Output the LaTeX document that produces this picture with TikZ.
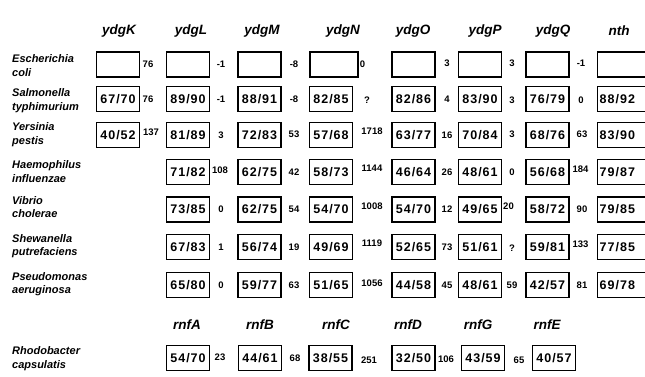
\documentclass[tikz,border=0pt]{standalone}
\usepackage{fontspec}
\setmainfont{Liberation Sans}
\newfontfamily\hvls[LetterSpace=8]{Liberation Sans}
\newcommand\spfont{\bfseries\itshape\fontsize{11}{13.5}\selectfont}
\newcommand\hdfont{\bfseries\itshape\fontsize{13.5}{15}\selectfont}
\newcommand\bxfont{\hvls\bfseries\fontsize{12.5}{14}\selectfont}
\newcommand\glfont{\bfseries\fontsize{9.5}{10}\selectfont}
\begin{document}
\begin{tikzpicture}[x=1pt,y=-1pt,
  sp/.style={anchor=west,align=left,inner sep=0pt,font=\spfont},
  hd/.style={inner sep=0pt,font=\hdfont},
  bx/.style={draw,line width=1.4pt,minimum width=43pt,minimum height=25pt,inner sep=0pt,font=\bxfont},
  nthbx/.style={bx,anchor=west,text width=48pt,align=left,inner xsep=2pt},
  gl/.style={inner sep=0pt,font=\glfont}]
\useasboundingbox (0,0) rectangle (645,376);
\clip (0,0) rectangle (645,376);
% headers
\node[hd] (hK) at (119,31) {ydgK};
\node[hd] (hL) at (191,31) {ydgL};
\node[hd] (hM) at (262,31) {ydgM};
\node[hd] (hN) at (343,31) {ydgN};
\node[hd] (hO) at (413,31) {ydgO};
\node[hd] (hP) at (485,31) {ydgP};
\node[hd] (hQ) at (553,31) {ydgQ};
\node[hd] (hnth) at (619,31) {nth};
% species
\node[sp] (s1) at (12,65.5) {Escherichia\\coli};
\node[sp] (s2) at (12,100.5) {Salmonella\\typhimurium};
\node[sp] (s3) at (12,134.5) {Yersinia\\pestis};
\node[sp] (s4) at (12,171.5) {Haemophilus\\influenzae};
\node[sp] (s5) at (12,207) {Vibrio\\cholerae};
\node[sp] (s6) at (12,246) {Shewanella\\putrefaciens};
\node[sp] (s7) at (12,284) {Pseudomonas\\aeruginosa};
\node[sp] (s8) at (12,358.5) {Rhodobacter\\capsulatis};
% row 1
\node[bx] (r1K) at (118,64.5) {};
\node[gl] (r1a) at (148,64.5) {76};
\node[bx] (r1L) at (188,64.5) {};
\node[gl] (r1b) at (221,64.5) {-1};
\node[bx] (r1M) at (259.5,64.5) {};
\node[gl] (r1c) at (294,64.5) {-8};
\node[bx,minimum width=48pt] (r1N) at (334,64.5) {};
\node[gl] (r1d) at (362.5,64.5) {0};
\node[bx] (r1O) at (413.5,64.5) {};
\node[gl] (r1e) at (447,63.5) {3};
\node[bx] (r1P) at (480,64.5) {};
\node[gl] (r1f) at (512,63.5) {3};
\node[bx] (r1Q) at (547.5,64.5) {};
\node[gl] (r1g) at (581,63.5) {-1};
\node[nthbx] (r1nth) at (597,64.5) {\phantom{0}};
% row 2
\node[bx] (r2K) at (118,99) {67/70};
\node[gl] (r2a) at (148,99) {76};
\node[bx] (r2L) at (188,99) {89/90};
\node[gl] (r2b) at (221,99) {-1};
\node[bx] (r2M) at (259.5,99) {88/91};
\node[gl] (r2c) at (294,99) {-8};
\node[bx] (r2N) at (331,99) {82/85};
\node[gl] (r2d) at (367,100) {?};
\node[bx] (r2O) at (413.5,99) {82/86};
\node[gl] (r2e) at (447,99) {4};
\node[bx] (r2P) at (480,99) {83/90};
\node[gl] (r2f) at (512,100) {3};
\node[bx] (r2Q) at (547.5,99) {76/79};
\node[gl] (r2g) at (581,100) {0};
\node[nthbx] (r2nth) at (597,99) {88/92};
% row 3
\node[bx] (r3K) at (118,135) {40/52};
\node[gl] (r3a) at (151,132.5) {137};
\node[bx] (r3L) at (188,135) {81/89};
\node[gl] (r3b) at (221,135) {3};
\node[bx] (r3M) at (259.5,135) {72/83};
\node[gl] (r3c) at (294,134) {53};
\node[bx] (r3N) at (331,135) {57/68};
\node[gl] (r3d) at (372,131.5) {1718};
\node[bx] (r3O) at (413.5,135) {63/77};
\node[gl] (r3e) at (447,135) {16};
\node[bx] (r3P) at (480,135) {70/84};
\node[gl] (r3f) at (512,134) {3};
\node[bx] (r3Q) at (547.5,135) {68/76};
\node[gl] (r3g) at (582,134) {63};
\node[nthbx] (r3nth) at (597,135) {83/90};
% row 4
\node[bx] (r4L) at (188,172) {71/82};
\node[gl] (r4b) at (220,170.5) {108};
\node[bx] (r4M) at (259.5,172) {62/75};
\node[gl] (r4c) at (294,172) {42};
\node[bx] (r4N) at (331,172) {58/73};
\node[gl] (r4d) at (372,168.5) {1144};
\node[bx] (r4O) at (413.5,172) {46/64};
\node[gl] (r4e) at (447,172) {26};
\node[bx] (r4P) at (480,172) {48/61};
\node[gl] (r4f) at (512,172) {0};
\node[bx] (r4Q) at (547.5,172) {56/68};
\node[gl] (r4g) at (580.5,169) {184};
\node[nthbx] (r4nth) at (597,172) {79/87};
% row 5
\node[bx] (r5L) at (188,209.5) {73/85};
\node[gl] (r5b) at (221,209.5) {0};
\node[bx] (r5M) at (259.5,209.5) {62/75};
\node[gl] (r5c) at (294,209.5) {54};
\node[bx] (r5N) at (331,209.5) {54/70};
\node[gl] (r5d) at (372,206) {1008};
\node[bx] (r5O) at (413.5,209.5) {54/70};
\node[gl] (r5e) at (447,209.5) {12};
\node[bx] (r5P) at (480,209.5) {49/65};
\node[gl] (r5f) at (508.5,206) {20};
\node[bx] (r5Q) at (547.5,209.5) {58/72};
\node[gl] (r5g) at (582,209.5) {90};
\node[nthbx] (r5nth) at (597,209.5) {79/85};
% row 6
\node[bx] (r6L) at (188,247) {67/83};
\node[gl] (r6b) at (221,247) {1};
\node[bx] (r6M) at (259.5,247) {56/74};
\node[gl] (r6c) at (294,247) {19};
\node[bx] (r6N) at (331,247) {49/69};
\node[gl] (r6d) at (372,243.5) {1119};
\node[bx] (r6O) at (413.5,247) {52/65};
\node[gl] (r6e) at (447,247) {73};
\node[bx] (r6P) at (480,247) {51/61};
\node[gl] (r6f) at (512,248) {?};
\node[bx] (r6Q) at (547.5,247) {59/81};
\node[gl] (r6g) at (580.5,244) {133};
\node[nthbx] (r6nth) at (597,247) {77/85};
% row 7
\node[bx] (r7L) at (188,285) {65/80};
\node[gl] (r7b) at (221,285) {0};
\node[bx] (r7M) at (259.5,285) {59/77};
\node[gl] (r7c) at (294,285) {63};
\node[bx] (r7N) at (331,285) {51/65};
\node[gl] (r7d) at (372,283) {1056};
\node[bx] (r7O) at (413.5,285) {44/58};
\node[gl] (r7e) at (447,285) {45};
\node[bx] (r7P) at (480,285) {48/61};
\node[gl] (r7f) at (512,285) {59};
\node[bx] (r7Q) at (547.5,285) {42/57};
\node[gl] (r7g) at (582,285) {81};
\node[nthbx] (r7nth) at (597,285) {69/78};
% rnf headers
\node[hd] (hA) at (187,325) {rnfA};
\node[hd] (hB) at (260,325) {rnfB};
\node[hd] (hC) at (336,325) {rnfC};
\node[hd] (hD) at (408,325) {rnfD};
\node[hd] (hG) at (478,325) {rnfG};
\node[hd] (hE) at (547,325) {rnfE};
% rnf row
\node[bx] (r8A) at (188,358) {54/70};
\node[gl] (r8a) at (220,357) {23};
\node[bx] (r8B) at (260,358) {44/61};
\node[gl] (r8b) at (295,358.5) {68};
\node[bx] (r8C) at (330.5,358) {38/55};
\node[gl] (r8c) at (369,360) {251};
\node[bx] (r8D) at (413.5,358) {32/50};
\node[gl] (r8d) at (446,359.5) {106};
\node[bx] (r8G) at (483,358) {43/59};
\node[gl] (r8e) at (519,360) {65};
\node[bx] (r8E) at (554,358) {40/57};
\end{tikzpicture}
\end{document}
